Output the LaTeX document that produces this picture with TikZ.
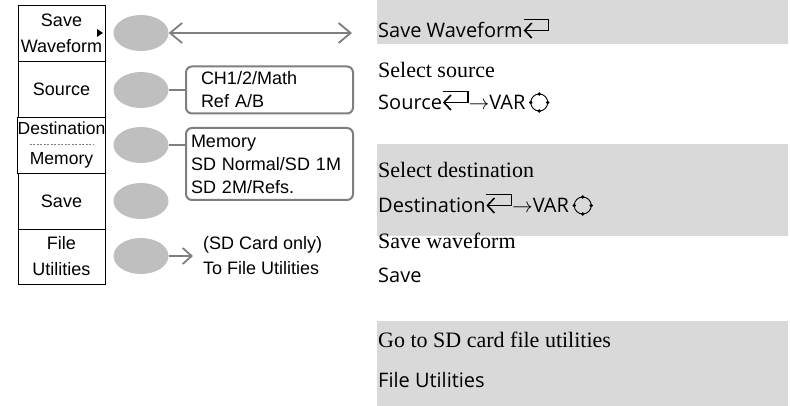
\documentclass[tikz,border=0pt]{standalone}
\usepackage{fontspec}
\setmainfont{Liberation Serif}
\setsansfont{Liberation Sans}
\newfontfamily\guifont{Open Sans}
\usepackage{tikz}
\usetikzlibrary{arrows.meta, positioning, shapes.geometric, calc}
\usepackage{xcolor}

\definecolor{bandgray}{HTML}{D9D9D9}
\definecolor{knobgray}{HTML}{BFBFBF}
\definecolor{wiregray}{HTML}{7F7F7F}

\newcommand{\retkey}{\tikz[x=1pt, y=1pt, baseline=0pt]{\draw[line width=1.6pt, -{Straight Barb[length=7pt, width=15pt]}] (2,18.5) -- (27,18.5) -- (27,7.5) -- (2,7.5);}}
\newcommand{\varknob}{\tikz[x=1pt, y=1pt, baseline=0pt]{\draw[line width=0.9pt] (11,7.5) circle (8.5);
  \foreach \a in {0,90,180,270} \fill (11,7.5) ++(\a:8.5) circle (1.9);}}

\begin{document}
\begin{tikzpicture}[x=1pt, y=-1pt,
  softkey/.style={draw, line width=0.8pt, minimum width=87pt, minimum height=56pt, inner sep=0pt, align=center, font=\sffamily\fontsize{18}{26}\selectfont},
  knob/.style={ellipse, fill=knobgray, minimum width=55pt, minimum height=36pt, inner sep=0pt},
  optbox/.style={draw=wiregray, line width=2pt, rounded corners=6pt, anchor=west, align=left, font=\sffamily\fontsize{18}{23}\selectfont},
  wire/.style={draw=wiregray, line width=1.8pt},
  desc/.style={anchor=base west, inner sep=0pt, font=\fontsize{22}{26}\selectfont},
  keyname/.style={anchor=base west, inner sep=0pt, font=\guifont\fontsize{20}{24}\selectfont}
]
\useasboundingbox (0,0) rectangle (790,406);

% right hand bands
\fill[bandgray] (377,0) rectangle (788,44);
\fill[bandgray] (377,144) rectangle (788,236);
\fill[bandgray] (377,321) rectangle (788,406);

% soft menu
\node[softkey] (savewf) at (61.5,33) {Save\\Waveform};
\node[softkey] (source) at (61.5,89) {Source};
\node[softkey, font=\sffamily\fontsize{17.5}{30}\selectfont] (dest) at (61.5,145) {Destination\\Memory};
\node[softkey] (save) at (61.5,201) {Save};
\node[softkey, minimum height=55pt] (fileutil) at (61.5,256.5) {File\\Utilities};
\draw[gray, line width=0.6pt, dash pattern=on 2pt off 1.5pt] ($(dest.center)+(-32,-1)$) -- ($(dest.center)+(32,-1)$);
\fill (97,29) -- (103,33) -- (97,37) -- cycle;

\node[knob] (k1) at (141,33) {};
\node[knob] (k2) at (141,90) {};
\node[knob] (k3) at (141,145) {};
\node[knob] (k4) at (141,201) {};
\node[knob] (k5) at (141,256) {};

\coordinate (wfend) at (352,33);
\node[optbox, inner xsep=15pt, text width=137pt, minimum height=47pt] (srcbox) at (185,90) {CH1/2/Math\\Ref A/B};
\node[optbox, inner xsep=5pt, text width=157pt, minimum height=72pt] (membox) at (185,164) {Memory\\SD Normal/SD 1M\\SD 2M/Refs.};
\node[anchor=west, inner xsep=10pt, align=left, font=\sffamily\fontsize{18}{25}\selectfont] (fileto) at (193,256) {(SD Card only)\\To File Utilities};

\draw[wire, {Straight Barb[length=12pt, width=20pt]}-{Straight Barb[length=12pt, width=20pt]}] (k1) -- (wfend);
\draw[wire] (k2) -- (srcbox);
\draw[wire] (k3.east) -- (k3.east -| membox.west);
\draw[wire, -{Straight Barb[length=9pt, width=16pt]}] (k5) -- (fileto);

% descriptions
\node[keyname] (t1) at (378,38) {Save Waveform\retkey};
\node[desc] (t2) at (378,78) {Select source};
\node[keyname] (t3) at (378,110) {Source\retkey$\rightarrow$VAR\,\varknob};
\node[desc] (t4) at (378,178) {Select destination};
\node[keyname] (t5) at (378,213) {Destination\retkey$\rightarrow$VAR\,\varknob};
\node[desc] (t6) at (378,248) {Save waveform};
\node[keyname] (t7) at (378,283) {Save};
\node[desc] (t8) at (378,347) {Go to SD card file utilities};
\node[keyname] (t9) at (378,387) {File Utilities};
\end{tikzpicture}
\end{document}
